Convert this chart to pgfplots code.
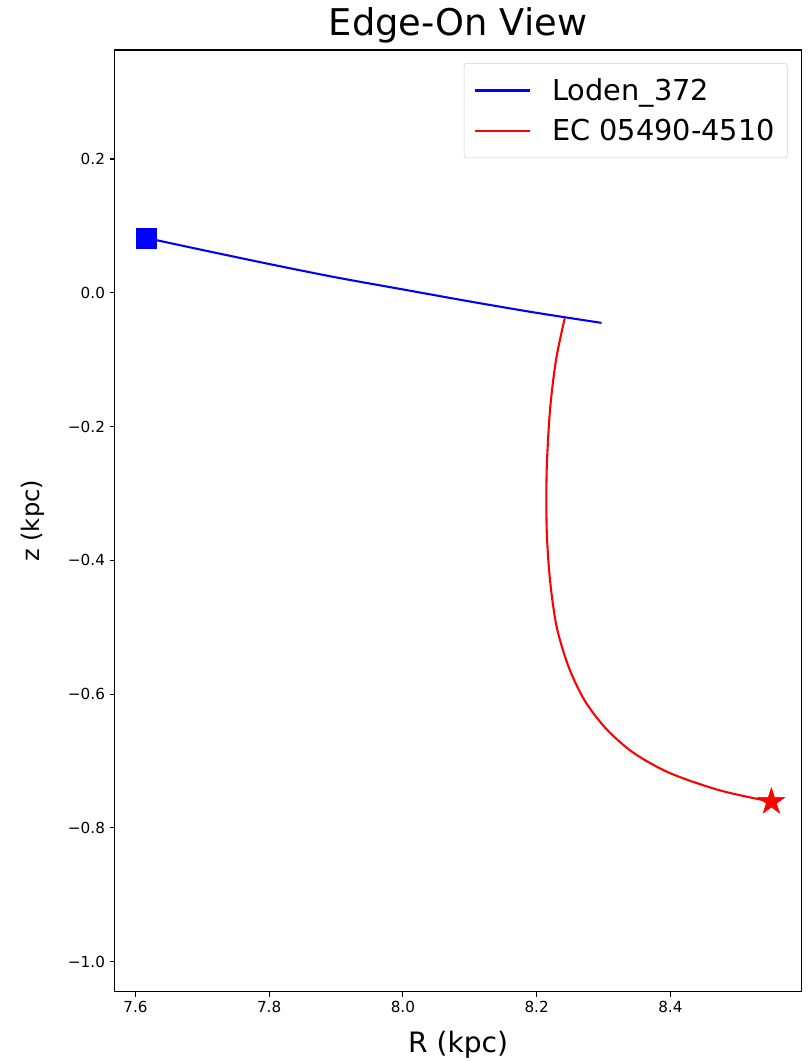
\documentclass[border=0pt]{standalone}
\usepackage{fontspec}
\setmainfont{DejaVu Sans}
\usepackage{pgfplots}
\pgfplotsset{compat=1.18}
\usetikzlibrary{calc}

% filled five-pointed star, like matplotlib's '*'
\pgfdeclareplotmark{fstar}{%
  \pgfpathmoveto{\pgfpointpolar{90}{\pgfplotmarksize}}%
  \pgfpathlineto{\pgfpointpolar{126}{0.382\pgfplotmarksize}}%
  \pgfpathlineto{\pgfpointpolar{162}{\pgfplotmarksize}}%
  \pgfpathlineto{\pgfpointpolar{198}{0.382\pgfplotmarksize}}%
  \pgfpathlineto{\pgfpointpolar{234}{\pgfplotmarksize}}%
  \pgfpathlineto{\pgfpointpolar{270}{0.382\pgfplotmarksize}}%
  \pgfpathlineto{\pgfpointpolar{306}{\pgfplotmarksize}}%
  \pgfpathlineto{\pgfpointpolar{342}{0.382\pgfplotmarksize}}%
  \pgfpathlineto{\pgfpointpolar{18}{\pgfplotmarksize}}%
  \pgfpathlineto{\pgfpointpolar{54}{0.382\pgfplotmarksize}}%
  \pgfpathclose\pgfusepathqfillstroke}

\begin{document}
\begin{tikzpicture}
\begin{axis}[
    scale only axis,
    width=494.6bp, height=678.2bp,
    xmin=7.569, xmax=8.596,
    ymin=-1.045, ymax=0.363,
    xtick={7.6,7.8,8.0,8.2,8.4},
    xticklabels={7.6,7.8,8.0,8.2,8.4},
    ytick={-1.0,-0.8,-0.6,-0.4,-0.2,0.0,0.2},
    yticklabels={−1.0,−0.8,−0.6,−0.4,−0.2,0.0,0.2},
    tick pos=left,
    tick align=outside,
    major tick length=3.5bp,
    every tick/.style={black, line width=0.8bp},
    axis line style={line width=0.8bp},
    tick label style={font=\fontsize{11}{13}\selectfont},
    title={Edge-On View},
    title style={at={(axis description cs:0.5,1.0066)}, anchor=base,
                 font=\fontsize{26.6}{31}\selectfont},
    xlabel={R (kpc)},
    xlabel style={at={(axis description cs:0.5,-0.065)}, anchor=base,
                  font=\fontsize{20.3}{24}\selectfont},
    ylabel={z (kpc)},
    ylabel style={at={(axis description cs:-0.109,0.5)}, anchor=base,
                  font=\fontsize{17.5}{21}\selectfont},
    legend cell align=left,
    legend image code/.code={\draw[#1] (0bp,0bp) -- (40bp,0bp);},
    legend style={at={(axis description cs:1,1)}, anchor=north east,
                  xshift=-10bp, yshift=-9.4bp,
                  draw=black!18, rounded corners=2bp,
                  font=\fontsize{20.8}{25}\selectfont,
                  row sep=8bp, inner xsep=7bp, inner ysep=9bp,
                  /tikz/every odd column/.append style={column sep=13bp}},
]
% orbit of Loden_372
\addplot[blue, line width=1.5bp, smooth] coordinates {
    (7.616,0.082) (7.700,0.064) (7.800,0.043) (7.900,0.023)
    (8.000,0.005) (8.100,-0.013) (8.200,-0.030) (8.297,-0.045)};
\addlegendentry{Loden\_372}
% orbit of EC 05490-4510
\addplot[red, line width=1.5bp, smooth] coordinates {
    (8.242,-0.038) (8.229,-0.100) (8.220,-0.175) (8.215,-0.265)
    (8.215,-0.354) (8.220,-0.430) (8.230,-0.500) (8.248,-0.560)
    (8.272,-0.610) (8.304,-0.652) (8.345,-0.688) (8.399,-0.718)
    (8.474,-0.744) (8.551,-0.761)};
\addlegendentry{EC 05490-4510}
\addplot[forget plot, only marks, mark=square*, blue, mark size=7.2bp]
    coordinates {(7.616,0.082)};
\addplot[forget plot, only marks, mark=fstar, red, mark size=10bp]
    coordinates {(8.551,-0.761)};
\end{axis}
\pgfresetboundingbox
\path[use as bounding box] ($(current axis.south west)+(-82.6bp,-49.9bp)$)
    rectangle ($(current axis.north east)+(5bp,36bp)$);
\end{tikzpicture}
\end{document}
